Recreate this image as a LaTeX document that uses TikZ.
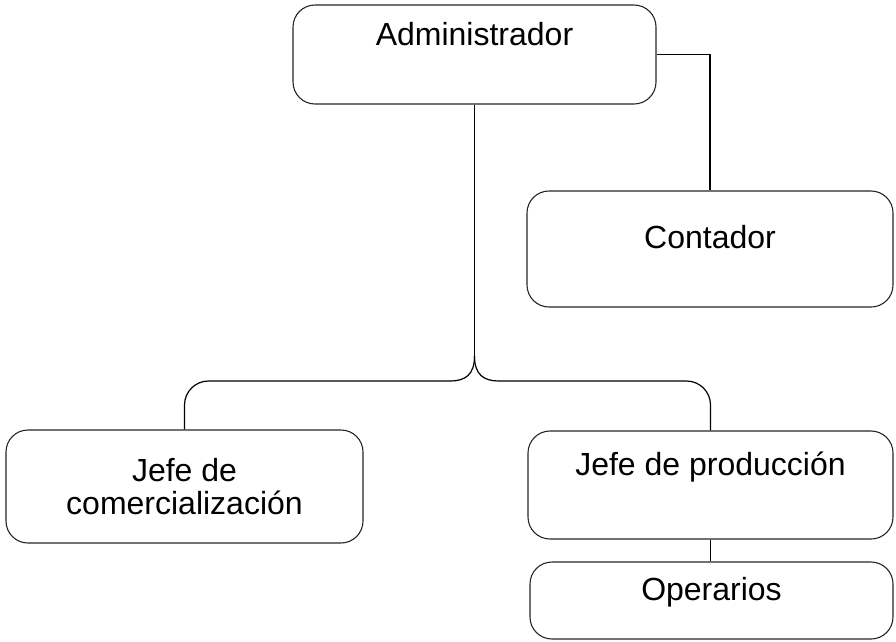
\documentclass[tikz,border=0pt]{standalone}
\usepackage{fontspec}
\setmainfont{Liberation Sans}
\usetikzlibrary{positioning}
\definecolor{bordegris}{gray}{0.15}

\begin{document}
\begin{tikzpicture}[x=1pt, y=-1pt, line width=1.1pt,
            caja/.style ={rectangle, rounded corners=22pt, draw=bordegris, inner ysep=0pt,
            font=\fontsize{32}{33}\selectfont, text=black},
            linea/.style ={draw=black, line width=1.2pt}]

        \useasboundingbox (0,0) rectangle (896,641);

        %\node [estilo] (nombre) at (posicion absoluta) {};

        \node[caja, minimum width=363pt, text height=40pt, text depth=59pt] (admin) at (474.5, 54.5) {Administrador};
        \node[caja, minimum width=366pt, text height=57pt, text depth=59pt] (contador) at (710, 249) {Contador};
        \node[caja, minimum width=357pt, minimum height=113pt, align=center] (comercial) at (184.5, 486.5) {Jefe de\\comercialización};
        \node[caja, minimum width=365pt, text height=44pt, text depth=64pt] (produccion) at (710.5, 485) {Jefe de producción};
        \node[caja, minimum width=363pt, text height=38pt, text depth=39pt] (operarios) at (711.5, 600.5) {Operarios};

        \coordinate (punta) at (474.5, 356);
        \coordinate (izq) at (450, 381);
        \coordinate (der) at (499, 381);

        \path[linea] (admin.east) -| (contador.north);
        \path[linea] (admin.south) -- (punta);

        \path[linea] (punta) .. controls (474.5, 375) and (465, 381) .. (izq);
        \path[linea] (punta) .. controls (474.5, 375) and (484, 381) .. (der);
        \path[linea, rounded corners=24pt] (izq) -| (comercial.north);
        \path[linea, rounded corners=24pt] (der) -| (produccion.north);

        \path[linea] (produccion.south) -- (produccion.south |- operarios.north);

    \end{tikzpicture}
\end{document}
